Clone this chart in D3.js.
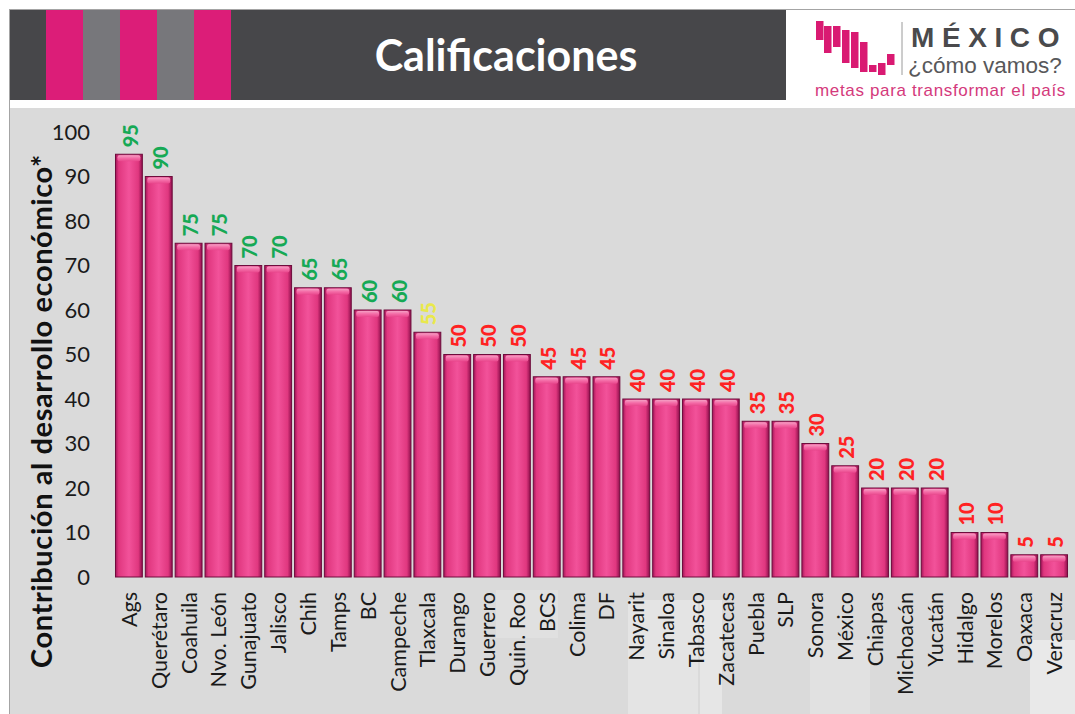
<!DOCTYPE html>
<html>
<head>
<meta charset="utf-8">
<script src="https://cdn.jsdelivr.net/npm/d3@7/dist/d3.min.js"></script>
<style>
  html, body { margin: 0; padding: 0; background: #ffffff; }
  svg { display: block; }
</style>
</head>
<body>
<svg id="chart" width="1075" height="714"></svg>
<script>
// Estados y su calificación
const states = ["Ags","Querétaro","Coahuila","Nvo. León","Gunajuato","Jalisco","Chih","Tamps","BC","Campeche",
  "Tlaxcala","Durango","Guerrero","Quin. Roo","BCS","Colima","DF","Nayarit","Sinaloa","Tabasco","Zacatecas",
  "Puebla","SLP","Sonora","México","Chiapas","Michoacán","Yucatán","Hidalgo","Morelos","Oaxaca","Veracruz"];
const scores = [95,90,75,75,70,70,65,65,60,60,55,50,50,50,45,45,45,40,40,40,40,35,35,30,25,20,20,20,10,10,5,5];
const yTicks = [0,10,20,30,40,50,60,70,80,90,100];
const title = "Calificaciones";
const yTitle = "Contribución al desarrollo económico*";

const svg = d3.select("#chart");
const defs = svg.append("defs");

// bar body: dark edges, bright centre
const g1 = defs.append("linearGradient").attr("id", "barBody").attr("x1", 0).attr("x2", 1).attr("y1", 0).attr("y2", 0);
[[0, "#a3155a"], [0.12, "#e0377f"], [0.5, "#f2529a"], [0.85, "#e0377f"], [1, "#8e0f4c"]]
  .forEach(([o, c]) => g1.append("stop").attr("offset", o).attr("stop-color", c));
const g2 = defs.append("linearGradient").attr("id", "barCap").attr("x1", 0).attr("x2", 0).attr("y1", 0).attr("y2", 1);
[[0, "#f4a0c4"], [0.5, "#f46aa6"], [1, "#e8478c"]]
  .forEach(([o, c]) => g2.append("stop").attr("offset", o).attr("stop-color", c));

// frame and panel
svg.append("rect").attr("x", 9).attr("y", 9).attr("width", 1070).attr("height", 710).attr("fill", "#a4a4a4");
svg.append("rect").attr("x", 10).attr("y", 100).attr("width", 1065).attr("height", 614).attr("fill", "#ffffff");
svg.append("rect").attr("x", 10).attr("y", 108).attr("width", 1065).attr("height", 606).attr("fill", "#dadada");
// lighter patches in the lower panel
[[496, 590, 62, 48, "#e0e0e0"], [628, 600, 70, 114, "#e4e4e4"], [700, 600, 22, 114, "#e6e6e6"],
 [810, 640, 60, 74, "#e1e1e1"], [1030, 640, 45, 74, "#e9e9e9"]]
  .forEach(([x, y, w, h, c]) => svg.append("rect").attr("x", x).attr("y", y).attr("width", w).attr("height", h).attr("fill", c));

// header band
svg.append("rect").attr("x", 10).attr("y", 10).attr("width", 776).attr("height", 90).attr("fill", "#47474a");
const stripes = [[46, "#dc1d78"], [83, "#77777b"], [120, "#dc1d78"], [157, "#77777b"], [194, "#dc1d78"]];
stripes.forEach(([x, c]) => svg.append("rect").attr("x", x).attr("y", 10).attr("width", 37).attr("height", 90).attr("fill", c));
svg.append("text").attr("x", 506).attr("y", 71).attr("text-anchor", "middle")
  .attr("font-family", "Lato, 'Open Sans', sans-serif").attr("font-weight", 700).attr("font-size", 43)
  .attr("fill", "#ffffff").text(title);

// logo block
svg.append("rect").attr("x", 786).attr("y", 10).attr("width", 289).attr("height", 90).attr("fill", "#ffffff");
const logoBars = [[816, 21, 40], [824, 26, 53], [833, 26, 47], [842, 30, 63], [851, 32, 68], [860, 42, 72], [869, 65, 72], [878, 63, 75], [887, 54, 65]];
logoBars.forEach(([x, y0, y1]) => svg.append("rect").attr("x", x).attr("y", y0).attr("width", 7.5).attr("height", y1 - y0).attr("fill", "#d91a72"));
svg.append("line").attr("x1", 902).attr("x2", 902).attr("y1", 22).attr("y2", 75).attr("stroke", "#9a9a9a").attr("stroke-width", 1);
svg.append("text").attr("x", 911).attr("y", 47).attr("font-family", "'Liberation Sans', Arial, sans-serif")
  .attr("font-weight", 700).attr("font-size", 28).attr("letter-spacing", 7.6).attr("fill", "#4a4a4c").text("MÉXICO");
svg.append("text").attr("x", 908).attr("y", 73).attr("font-family", "'Liberation Sans', Arial, sans-serif")
  .attr("font-size", 22.5).attr("fill", "#58585a").text("¿cómo vamos?");
svg.append("text").attr("x", 815).attr("y", 96).attr("font-family", "'Liberation Sans', Arial, sans-serif")
  .attr("font-size", 17).attr("letter-spacing", 0.65).attr("fill", "#d43a7c").text("metas para transformar el país");

// scales
const x = d3.scaleBand().domain(states).range([114, 1069]).paddingInner(0.1).paddingOuter(0.05);
const y = d3.scaleLinear().domain([0, 100]).range([577, 132]);

// y axis
const yAxis = svg.append("g").attr("transform", "translate(92,0)")
  .call(d3.axisLeft(y).tickValues(yTicks).tickSize(0).tickPadding(2));
yAxis.select(".domain").remove();
yAxis.selectAll("text").attr("font-family", "Lato, 'Open Sans', sans-serif").attr("font-size", 22)
  .attr("fill", "#1a1a1a");

svg.append("text").attr("transform", "translate(52,411) rotate(-90)").attr("text-anchor", "middle")
  .attr("font-family", "Lato, 'Open Sans', sans-serif").attr("font-weight", 700).attr("font-size", 29)
  .attr("letter-spacing", 0.6).attr("fill", "#111111").text(yTitle);

// bars
const data = states.map((s, i) => ({ state: s, score: scores[i] }));
const bars = svg.append("g").selectAll("g").data(data).join("g");
bars.append("rect")
  .attr("x", d => x(d.state)).attr("y", d => y(d.score))
  .attr("width", x.bandwidth()).attr("height", d => y(0) - y(d.score))
  .attr("fill", "url(#barBody)").attr("stroke", "#6e0c3c").attr("stroke-width", 1);
bars.append("rect")
  .attr("x", d => x(d.state) + 2).attr("y", d => y(d.score) + 1)
  .attr("width", x.bandwidth() - 4).attr("height", 6).attr("rx", 2)
  .attr("fill", "url(#barCap)");

// value labels
const labelColor = v => v >= 60 ? "#16a955" : (v >= 55 ? "#e9e84c" : "#ff2222");
svg.append("g").selectAll("text").data(data).join("text")
  .attr("transform", d => `translate(${x(d.state) + x.bandwidth() / 2 + 1},${y(d.score) - 7}) rotate(-90)`)
  .attr("dominant-baseline", "central")
  .attr("font-family", "Lato, 'Open Sans', sans-serif").attr("font-weight", 900).attr("font-size", 20)
  .attr("fill", d => labelColor(d.score)).text(d => d.score);

// category labels
svg.append("g").selectAll("text").data(states).join("text")
  .attr("transform", d => `translate(${x(d) + x.bandwidth() / 2},592) rotate(-90)`)
  .attr("text-anchor", "end").attr("dominant-baseline", "central")
  .attr("font-family", "Lato, 'Open Sans', sans-serif").attr("font-size", 21.5)
  .attr("fill", "#1a1a1a").text(d => d);
</script>
</body>
</html>
